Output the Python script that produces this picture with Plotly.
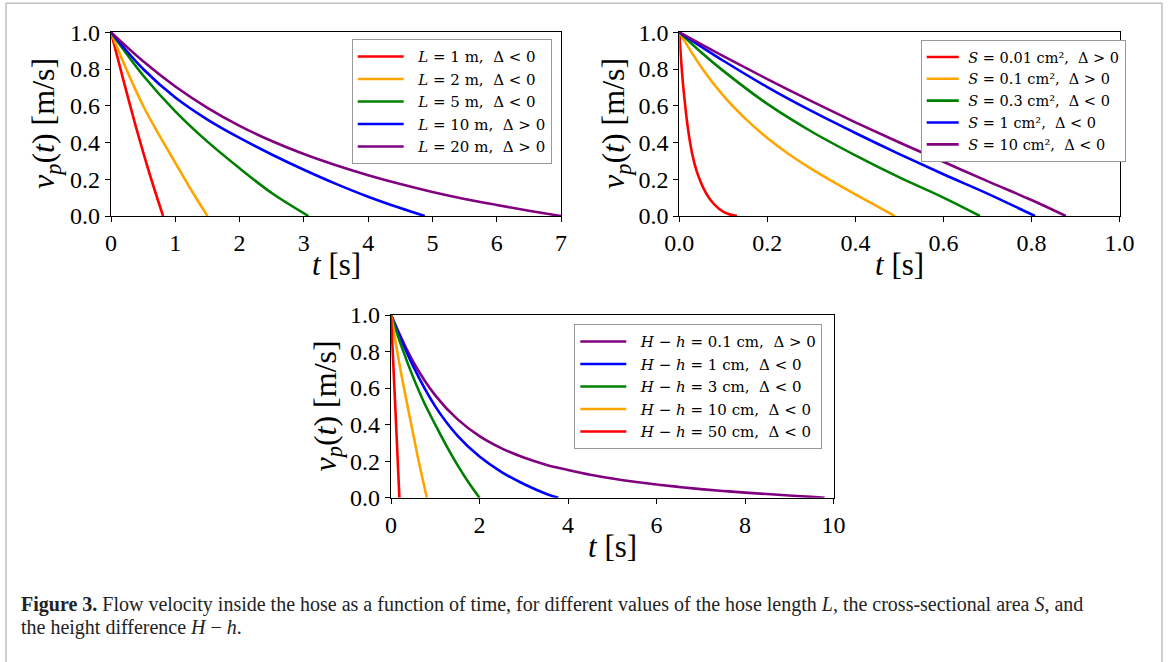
import plotly.graph_objects as go

# ---------------- data ----------------
# Panel 1: hose length L
L_labels = ["<i>L</i> = 1 m,  Δ &lt; 0", "<i>L</i> = 2 m,  Δ &lt; 0", "<i>L</i> = 5 m,  Δ &lt; 0",
            "<i>L</i> = 10 m,  Δ &gt; 0", "<i>L</i> = 20 m,  Δ &gt; 0"]
L_t1 = [0, 0.2, 0.4, 0.6, 0.81]
L_v1 = [1, 0.73, 0.47, 0.23, 0]
L_t2 = [0, 0.25, 0.5, 0.75, 1.0, 1.25, 1.5]
L_v2 = [1, 0.79, 0.60, 0.44, 0.29, 0.14, 0]
L_t5 = [0, 0.5, 1, 1.5, 2, 2.5, 3.07]
L_v5 = [1, 0.765, 0.57, 0.405, 0.26, 0.125, 0]
L_t10 = [0, 0.5, 1, 1.5, 2, 2.5, 3, 3.5, 4, 4.5, 4.88]
L_v10 = [1, 0.80, 0.645, 0.525, 0.425, 0.335, 0.252, 0.175, 0.105, 0.043, 0]
L_t20 = [0, 0.5, 1, 1.5, 2, 2.5, 3, 3.5, 4, 4.5, 5, 5.5, 6, 6.5, 7]
L_v20 = [1, 0.842, 0.705, 0.589, 0.491, 0.408, 0.337, 0.276, 0.222, 0.174, 0.131, 0.093, 0.060, 0.029, 0]

# Panel 2: cross-sectional area S
S_labels = ["<i>S</i> = 0.01 cm²,  Δ &gt; 0", "<i>S</i> = 0.1 cm²,  Δ &gt; 0", "<i>S</i> = 0.3 cm²,  Δ &lt; 0",
            "<i>S</i> = 1 cm²,  Δ &lt; 0", "<i>S</i> = 10 cm²,  Δ &lt; 0"]
S_t001 = [0, 0.005, 0.01, 0.02, 0.03, 0.04, 0.055, 0.07, 0.09, 0.11, 0.131]
S_v001 = [1, 0.82, 0.68, 0.47, 0.33, 0.24, 0.15, 0.09, 0.04, 0.012, 0]
S_t01 = [0, 0.05, 0.1, 0.15, 0.2, 0.25, 0.3, 0.35, 0.4, 0.45, 0.489]
S_v01 = [1, 0.81, 0.655, 0.53, 0.425, 0.335, 0.257, 0.186, 0.118, 0.052, 0]
S_t03 = [0, 0.05, 0.1, 0.2, 0.3, 0.4, 0.5, 0.6, 0.683]
S_v03 = [1, 0.89, 0.79, 0.61, 0.46, 0.33, 0.21, 0.10, 0]
S_t1 = [0, 0.1, 0.2, 0.3, 0.4, 0.5, 0.6, 0.7, 0.808]
S_v1 = [1, 0.845, 0.702, 0.572, 0.452, 0.337, 0.227, 0.122, 0]
S_t10 = [0, 0.1, 0.2, 0.3, 0.4, 0.5, 0.6, 0.7, 0.8, 0.878]
S_v10 = [1, 0.87, 0.745, 0.625, 0.51, 0.40, 0.295, 0.19, 0.087, 0]

# Panel 3: height difference H - h
H_labels = ["<i>H</i> − <i>h</i> = 0.1 cm,  Δ &gt; 0", "<i>H</i> − <i>h</i> = 1 cm,  Δ &lt; 0",
            "<i>H</i> − <i>h</i> = 3 cm,  Δ &lt; 0", "<i>H</i> − <i>h</i> = 10 cm,  Δ &lt; 0",
            "<i>H</i> − <i>h</i> = 50 cm,  Δ &lt; 0"]
H_t01 = [0, 0.5, 1, 1.5, 2, 2.5, 3, 3.5, 4, 4.5, 5, 5.5, 6, 6.5, 7, 7.5, 8, 8.5, 9, 9.5, 9.8]
H_v01 = [1, 0.745, 0.56, 0.43, 0.337, 0.27, 0.22, 0.181, 0.152, 0.126, 0.105, 0.087, 0.072,
         0.059, 0.047, 0.037, 0.028, 0.02, 0.012, 0.005, 0]
H_t1 = [0, 0.5, 1, 1.5, 2, 2.5, 3, 3.5, 3.78]
H_v1 = [1, 0.72, 0.50, 0.34, 0.225, 0.14, 0.075, 0.022, 0]
H_t3 = [0, 0.25, 0.5, 0.75, 1, 1.25, 1.5, 1.75, 2.0]
H_v3 = [1, 0.82, 0.66, 0.52, 0.40, 0.285, 0.18, 0.085, 0]
H_t10 = [0, 0.2, 0.4, 0.6, 0.81]
H_v10 = [1, 0.72, 0.47, 0.23, 0]
H_t50 = [0, 0.1, 0.19]
H_v50 = [1, 0.48, 0]

RED, ORANGE, GREEN, BLUE, PURPLE = "#ff0000", "#ffa500", "#008000", "#0000ff", "#800080"

W, H = 1168, 662
SERIF = "Liberation Serif"

fig = go.Figure()

def add(t, v, name, color, xa, ya, leg, pad="  "):
    fig.add_trace(go.Scatter(x=t, y=v, mode="lines", name=pad + name,
                             line=dict(color=color, width=2.6, shape="spline", smoothing=1.0),
                             xaxis=xa, yaxis=ya, legend=leg, showlegend=True))

add(L_t1, L_v1, L_labels[0], RED, "x", "y", "legend")
add(L_t2, L_v2, L_labels[1], ORANGE, "x", "y", "legend")
add(L_t5, L_v5, L_labels[2], GREEN, "x", "y", "legend")
add(L_t10, L_v10, L_labels[3], BLUE, "x", "y", "legend")
add(L_t20, L_v20, L_labels[4], PURPLE, "x", "y", "legend")

add(S_t001, S_v001, S_labels[0], RED, "x2", "y2", "legend2", " ")
add(S_t01, S_v01, S_labels[1], ORANGE, "x2", "y2", "legend2", " ")
add(S_t03, S_v03, S_labels[2], GREEN, "x2", "y2", "legend2", " ")
add(S_t1, S_v1, S_labels[3], BLUE, "x2", "y2", "legend2", " ")
add(S_t10, S_v10, S_labels[4], PURPLE, "x2", "y2", "legend2", " ")

add(H_t01, H_v01, H_labels[0], PURPLE, "x3", "y3", "legend3")
add(H_t1, H_v1, H_labels[1], BLUE, "x3", "y3", "legend3")
add(H_t3, H_v3, H_labels[2], GREEN, "x3", "y3", "legend3")
add(H_t10, H_v10, H_labels[3], ORANGE, "x3", "y3", "legend3")
add(H_t50, H_v50, H_labels[4], RED, "x3", "y3", "legend3")

def px_x(p):
    return p / W

def px_y(p):
    return 1 - p / H

tickfont = dict(family=SERIF, size=24, color="black")

def xaxis(dom, rng, dtick, fmt, anchor):
    return dict(domain=dom, range=rng, dtick=dtick, tick0=0, tickformat=fmt, anchor=anchor,
                showgrid=False, zeroline=False, showline=True, mirror=True, linecolor="black",
                linewidth=1.2, ticks="outside", ticklen=5, tickcolor="black", tickfont=tickfont,
                automargin=False)

def yaxis(dom, anchor):
    return dict(domain=dom, range=[0, 1], dtick=0.2, tick0=0, tickformat=".1f", anchor=anchor,
                showgrid=False, zeroline=False, showline=True, mirror=True, linecolor="black",
                linewidth=1.2, ticks="outside", ticklen=5, tickcolor="black", tickfont=tickfont,
                automargin=False)

p1x = (111, 561); p1y = (32.3, 216)
p2x = (679.3, 1119.5); p2y = (32.3, 216)
p3x = (391, 833.5); p3y = (315, 497.7)

def legend(x, y, size=15, itemwidth=46):
    return dict(x=px_x(x), y=px_y(y), xanchor="left", yanchor="top", bgcolor="white",
                bordercolor="#999999", borderwidth=1,
                font=dict(family="DejaVu Serif", size=size, color="black"),
                itemwidth=itemwidth, traceorder="normal")

fig.update_layout(
    width=W, height=H, margin=dict(l=0, r=0, t=0, b=0, autoexpand=False),
    paper_bgcolor="white", plot_bgcolor="white",
    xaxis=xaxis([px_x(p1x[0]), px_x(p1x[1])], [0, 7], 1, "d", "y"),
    yaxis=yaxis([px_y(p1y[1]), px_y(p1y[0])], "x"),
    xaxis2=xaxis([px_x(p2x[0]), px_x(p2x[1])], [0, 1], 0.2, ".1f", "y2"),
    yaxis2=yaxis([px_y(p2y[1]), px_y(p2y[0])], "x2"),
    xaxis3=xaxis([px_x(p3x[0]), px_x(p3x[1])], [0, 10], 2, "d", "y3"),
    yaxis3=yaxis([px_y(p3y[1]), px_y(p3y[0])], "x3"),
    legend=legend(351.7, 39.3),
    legend2=legend(920.7, 40, size=14.5, itemwidth=32),
    legend3=legend(574.3, 324.3),
    showlegend=True,
)

ytitle = "<i>v<sub>p</sub></i>(<i>t</i>) [m/s]"
xtitle = "<i>t</i> [s]"
titlefont = dict(family=SERIF, size=32, color="black")
for (px, py) in [(45, 124), (615, 124), (327, 406.5)]:
    fig.add_annotation(x=px_x(px), y=px_y(py), xref="paper", yref="paper", text=ytitle,
                       textangle=-90, showarrow=False, font=titlefont,
                       xanchor="center", yanchor="middle")
for (px, py) in [(336, 264), (899.4, 264), (612, 546)]:
    fig.add_annotation(x=px_x(px), y=px_y(py), xref="paper", yref="paper", text=xtitle,
                       showarrow=False, font=dict(family=SERIF, size=31, color="black"),
                       xanchor="center", yanchor="middle")

capfont = dict(family=SERIF, size=20, color="#222222")
fig.add_annotation(x=px_x(19), y=px_y(604), xref="paper", yref="paper", showarrow=False,
                   xanchor="left", yanchor="middle", font=capfont,
                   text="<b>Figure 3.</b> Flow velocity inside the hose as a function of time, for different values of the hose length <i>L</i>, the cross-sectional area <i>S</i>, and")
fig.add_annotation(x=px_x(19), y=px_y(627), xref="paper", yref="paper", showarrow=False,
                   xanchor="left", yanchor="middle", font=capfont,
                   text="the height difference <i>H</i> − <i>h</i>.")

fig.add_shape(type="rect", xref="paper", yref="paper",
              x0=px_x(6), x1=px_x(1162), y0=-0.05, y1=px_y(3.3),
              line=dict(color="#c0c0c0", width=1.5), fillcolor="rgba(0,0,0,0)", layer="below")

fig.write_html("out.html", config={"displayModeBar": False},
               post_script="document.body.style.margin='0';document.body.style.overflow='hidden';")
